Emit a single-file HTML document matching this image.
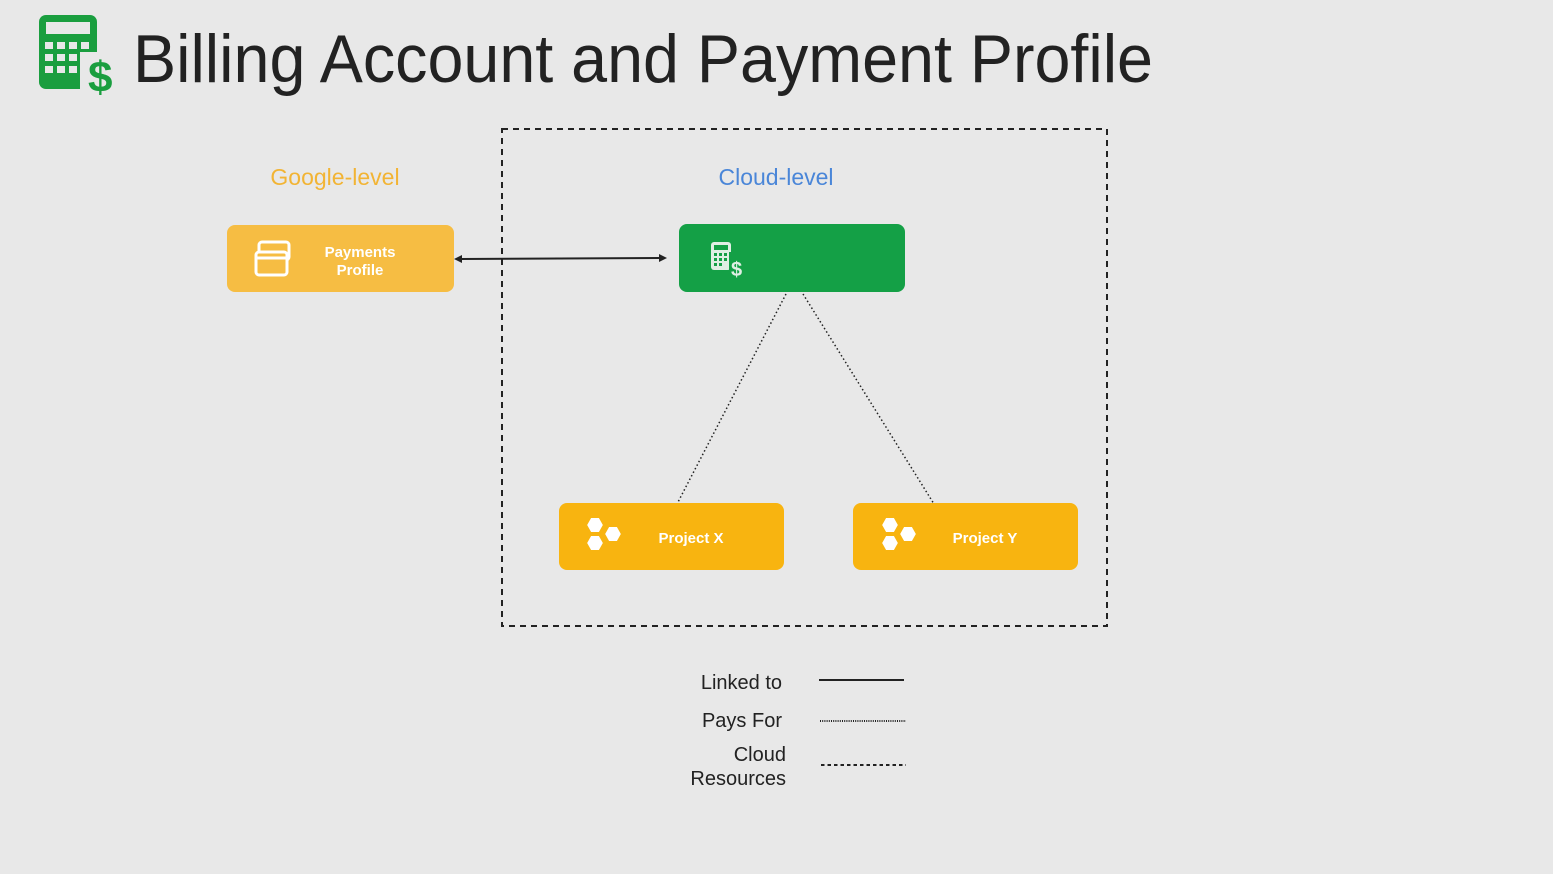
<!DOCTYPE html>
<html><head><meta charset="utf-8"><style>
html,body{margin:0;padding:0;background:#e8e8e8;}
svg{display:block;font-family:"Liberation Sans",Arial,sans-serif;}
</style></head><body>
<svg width="1553" height="874" viewBox="0 0 1553 874" xmlns="http://www.w3.org/2000/svg">
<rect width="1553" height="874" fill="#e8e8e8"/>
<g fill="#1a9e3f">
<rect x="39" y="15" width="58" height="74" rx="7"/>
</g>
<g fill="#e8e8e8">
<rect x="46" y="22" width="44" height="12"/>
<rect x="45" y="42" width="8" height="7"/><rect x="57" y="42" width="8" height="7"/><rect x="69" y="42" width="8" height="7"/><rect x="81" y="42" width="8" height="7"/>
<rect x="45" y="54" width="8" height="7"/><rect x="57" y="54" width="8" height="7"/><rect x="69" y="54" width="8" height="7"/>
<rect x="45" y="66" width="8" height="7"/><rect x="57" y="66" width="8" height="7"/><rect x="69" y="66" width="8" height="7"/>
<rect x="80" y="52" width="36" height="42"/>
</g>
<text x="88" y="92" font-size="44" font-weight="bold" fill="#1a9e3f">$</text>
<text x="133" y="82" font-size="68" fill="#222" textLength="1020" lengthAdjust="spacingAndGlyphs">Billing Account and Payment Profile</text>

<rect x="502" y="129" width="605" height="497" fill="none" stroke="#222" stroke-width="2" stroke-dasharray="6,5"/>

<text x="335" y="185" font-size="23" fill="#f2b434" text-anchor="middle">Google-level</text>
<text x="776" y="185" font-size="23" fill="#4a86d8" text-anchor="middle">Cloud-level</text>

<rect x="227" y="225" width="227" height="67" rx="8" fill="#f6bd43"/>
<g fill="none" stroke="#fff" stroke-width="3">
<rect x="259" y="242" width="30" height="18" rx="3"/>
<rect x="256" y="252" width="31" height="23" rx="3" fill="#f6bd43"/>
<line x1="256" y1="258" x2="287" y2="258"/>
</g>
<text x="360" y="257" font-size="15" font-weight="bold" fill="#fff" text-anchor="middle">Payments</text>
<text x="360" y="275" font-size="15" font-weight="bold" fill="#fff" text-anchor="middle">Profile</text>

<line x1="460" y1="259" x2="660" y2="258" stroke="#222" stroke-width="2"/>
<polygon points="454,259 462,255 462,263" fill="#222"/>
<polygon points="667,258 659,254 659,262" fill="#222"/>

<rect x="679" y="224" width="226" height="68" rx="8" fill="#14a046"/>
<g fill="#e0efe4">
<rect x="711" y="242" width="20" height="28" rx="3"/>
</g>
<g fill="#14a046">
<rect x="714" y="245" width="14" height="5"/>
<rect x="714" y="253" width="3" height="3"/><rect x="719" y="253" width="3" height="3"/><rect x="724" y="253" width="3" height="3"/>
<rect x="714" y="258" width="3" height="3"/><rect x="719" y="258" width="3" height="3"/><rect x="724" y="258" width="3" height="3"/>
<rect x="714" y="263" width="3" height="3"/><rect x="719" y="263" width="3" height="3"/>
<rect x="729" y="252" width="14" height="26"/>
</g>
<text x="731" y="276" font-size="20" font-weight="bold" fill="#e0efe4">$</text>

<line x1="786" y1="294" x2="677" y2="504" stroke="#222" stroke-width="1.5" stroke-dasharray="1.5,2.5"/>
<line x1="803" y1="294" x2="934" y2="504" stroke="#222" stroke-width="1.5" stroke-dasharray="1.5,2.5"/>

<rect x="559" y="503" width="225" height="67" rx="8" fill="#f8b410"/>
<rect x="853" y="503" width="225" height="67" rx="8" fill="#f8b410"/>
<g fill="#fff" stroke="#f8b410" stroke-width="2" stroke-linejoin="round">
<polygon points="586,525 590.5,517 599.5,517 604,525 599.5,533 590.5,533"/>
<polygon points="586,543 590.5,535 599.5,535 604,543 599.5,551 590.5,551"/>
<polygon points="604,534 608.5,526 617.5,526 622,534 617.5,542 608.5,542"/>
<polygon points="881,525 885.5,517 894.5,517 899,525 894.5,533 885.5,533"/>
<polygon points="881,543 885.5,535 894.5,535 899,543 894.5,551 885.5,551"/>
<polygon points="899,534 903.5,526 912.5,526 917,534 912.5,542 903.5,542"/>
</g>
<text x="691" y="543" font-size="15" font-weight="bold" fill="#fff" text-anchor="middle">Project X</text>
<text x="985" y="543" font-size="15" font-weight="bold" fill="#fff" text-anchor="middle">Project Y</text>

<g font-size="20" fill="#222" text-anchor="end">
<text x="782" y="689">Linked to</text>
<text x="782" y="727">Pays For</text>
<text x="786" y="761">Cloud</text>
<text x="786" y="785">Resources</text>
</g>
<line x1="819" y1="680" x2="904" y2="680" stroke="#222" stroke-width="2"/>
<line x1="820" y1="721" x2="906" y2="721" stroke="#222" stroke-width="2" stroke-dasharray="1,1.2"/>
<line x1="821" y1="765" x2="906" y2="765" stroke="#222" stroke-width="2" stroke-dasharray="3.5,3"/>
</svg>
</body></html>
